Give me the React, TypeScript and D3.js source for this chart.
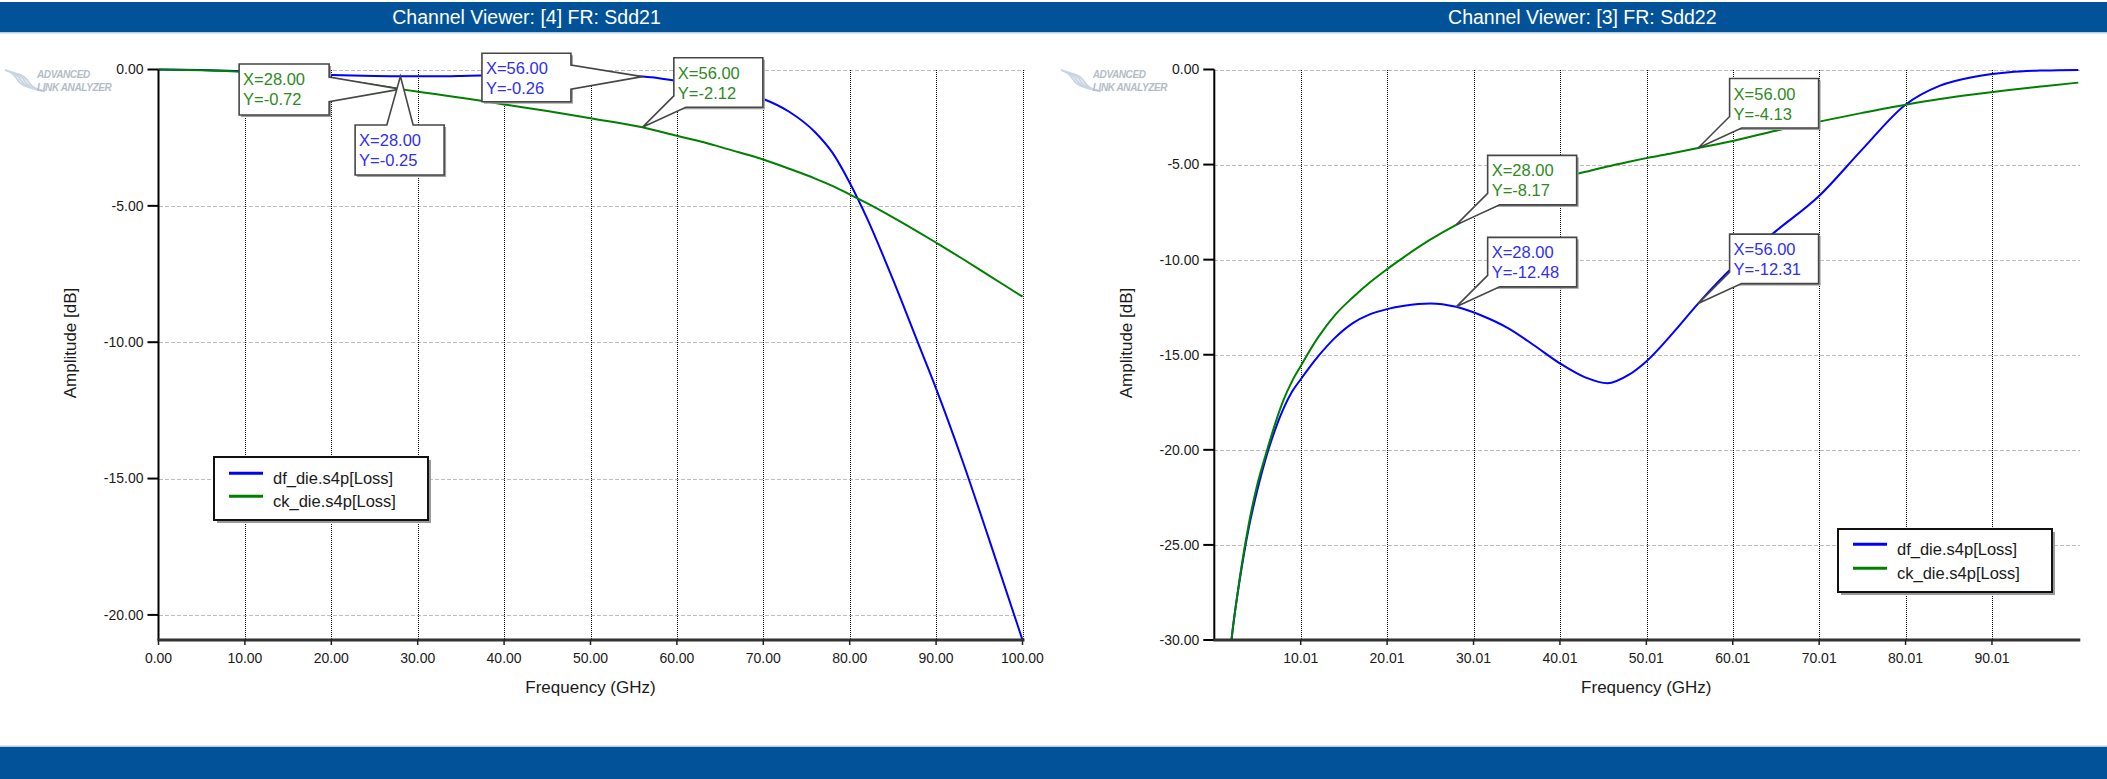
import React from 'react';
import * as d3 from 'd3';

// ---- data: left panel, FR Sdd21 ----
const sdd21Freq = [0, 5, 10, 15, 20, 25, 28, 32, 36, 40, 45, 50, 56, 60, 63, 66, 70, 73, 76, 78, 80, 82, 85, 88, 90, 93, 96, 100];
const sdd21Df = [0, -0.02, -0.06, -0.13, -0.2, -0.24, -0.25, -0.25, -0.23, -0.21, -0.2, -0.21, -0.26, -0.42, -0.58, -0.77, -1.08, -1.55, -2.3, -3.05, -4.15, -5.45, -7.7, -10.1, -11.7, -14.3, -17.1, -20.92];
const sdd21Ck = [0, -0.03, -0.09, -0.2, -0.35, -0.57, -0.72, -0.9, -1.08, -1.28, -1.52, -1.79, -2.12, -2.43, -2.66, -2.93, -3.3, -3.64, -4.0, -4.27, -4.58, -4.9, -5.42, -5.97, -6.35, -6.93, -7.53, -8.33];
const sdd21XTicks = [0, 10, 20, 30, 40, 50, 60, 70, 80, 90, 100];
const sdd21YTicks = [0, -5, -10, -15, -20];

// ---- data: right panel, FR Sdd22 ----
const sdd22Freq = [1.5, 2, 2.5, 3, 4, 5, 6, 7, 8, 9, 10, 12, 14, 16, 18, 20, 22, 25, 28, 31, 34, 37, 40, 43, 45.5, 48, 50, 53, 56, 60, 65, 70, 75, 80, 84, 88, 92, 96, 100];
const sdd22Df = [-32.5, -30.0, -28.2, -26.7, -24.1, -22.1, -20.4, -19.0, -17.85, -16.95, -16.3, -15.1, -14.1, -13.35, -12.88, -12.6, -12.42, -12.3, -12.48, -12.95, -13.6, -14.5, -15.45, -16.2, -16.5, -16.05, -15.35, -13.9, -12.31, -10.4, -8.5, -6.65, -4.2, -1.85, -0.85, -0.38, -0.14, -0.05, -0.02];
const sdd22Ck = [-32.5, -30.0, -28.2, -26.6, -23.9, -21.8, -20.2, -18.7, -17.4, -16.4, -15.6, -14.1, -12.9, -12.0, -11.2, -10.5, -9.85, -8.95, -8.17, -7.5, -6.9, -6.28, -5.72, -5.38, -5.1, -4.85, -4.66, -4.4, -4.13, -3.76, -3.22, -2.74, -2.28, -1.85, -1.55, -1.3, -1.08, -0.88, -0.69];
const sdd22XTicks = [10.01, 20.01, 30.01, 40.01, 50.01, 60.01, 70.01, 80.01, 90.01];
const sdd22YTicks = [0, -5, -10, -15, -20, -25, -30];

const seriesNames = ['df_die.s4p[Loss]', 'ck_die.s4p[Loss]'];
const seriesColors = ['#0000ff', '#008000'];
const markerTextColors = ['#3030f0', '#2e8a1c'];

// markers: series index, frequency, value
const sdd21Markers = [
  { s: 1, f: 28, v: -0.72 },
  { s: 0, f: 28, v: -0.25 },
  { s: 0, f: 56, v: -0.26 },
  { s: 1, f: 56, v: -2.12 },
];
const sdd22Markers = [
  { s: 1, f: 28, v: -8.17 },
  { s: 1, f: 56, v: -4.13 },
  { s: 0, f: 28, v: -12.48 },
  { s: 0, f: 56, v: -12.31 },
];

// ---- layout ----
const W = 2107;
const H = 779;
const PL = 158.5;
const PR = 1022.5;
const PT = 69.5;
const PB = 640;
const FONT = '"Liberation Sans", Arial, sans-serif';

const locale = d3.formatLocale({ decimal: '.', thousands: ',', grouping: [3], currency: ['', ''], minus: '-' });
const fmt = locale.format('.2f');

type Callout = { side: string; dx: number; dy: number; w: number; h: number; a: number; b: number };
const corner = { side: 'corner', dx: 31.5, dy: -69.5, w: 89, h: 49.5, a: 38, b: 12 };
const sdd21Callouts: Callout[] = [
  { side: 'right', dx: -161.3, dy: -25.1, w: 90, h: 51, a: 13, b: 37.7 },
  { side: 'top', dx: -45.3, dy: 48.7, w: 89, h: 50, a: 31.7, b: 58 },
  { side: 'right', dx: -160.4, dy: -23.3, w: 89, h: 48.4, a: 11.7, b: 36 },
  corner,
];
const sdd22Callouts: Callout[] = [corner, corner, corner, corner];

function calloutPath(ax: number, ay: number, c: Callout) {
  const bx = ax + c.dx;
  const by = ay + c.dy;
  const r = bx + c.w;
  const b = by + c.h;
  if (c.side === 'right') return `M${bx},${by}H${r}V${by + c.a}L${ax},${ay}L${r},${by + c.b}V${b}H${bx}Z`;
  if (c.side === 'top') return `M${bx},${by}H${bx + c.a}L${ax},${ay}L${bx + c.b},${by}H${r}V${b}H${bx}Z`;
  return `M${bx},${by}H${r}V${b}H${bx + c.b}L${ax},${ay}L${bx},${by + c.a}Z`;
}

function Logo() {
  return (
    <g>
      {[0, 4, 8, 12].map((o) => (
        <path key={o} d={`M${5 + o},${70 + o * 0.3} q8,2 12,9 q4,7 16,9`} fill="none" stroke="#c9d6e2" strokeWidth={2} />
      ))}
      <text x={37} y={78} fontSize={10} fontWeight="bold" fontStyle="italic" fill="#b4bcc6" fontFamily={FONT} letterSpacing={-0.4}>ADVANCED</text>
      <text x={37} y={90.5} fontSize={10} fontWeight="bold" fontStyle="italic" fill="#b4bcc6" fontFamily={FONT} letterSpacing={-0.4}>LINK ANALYZER</text>
    </g>
  );
}

type PanelProps = {
  id: string;
  ox: number;
  title: string;
  freq: number[];
  series: number[][];
  xDomain: [number, number];
  yDomain: [number, number];
  xTicks: number[];
  yTicks: number[];
  gridX: number[];
  markers: { s: number; f: number; v: number }[];
  callouts: Callout[];
  legend: { x: number; y: number; l1: number; l2: number };
};

function Panel(p: PanelProps) {
  const x = d3.scaleLinear().domain(p.xDomain).range([PL, PR]);
  const y = d3.scaleLinear().domain(p.yDomain).range([PB, PT]);
  const line = (vals: number[]) =>
    d3.line<number>()
      .x((_, i) => x(p.freq[i]))
      .y((v) => y(v))
      .curve(d3.curveMonotoneX)(vals) || '';
  const crisp = (v: number) => Math.round(v) + 0.5;

  return (
    <g transform={`translate(${p.ox},0)`}>
      <text x={526.5} y={24} fill="#fff" fontSize={19.5} textAnchor="middle" fontFamily={FONT}>{p.title}</text>
      <Logo />
      <defs>
        <clipPath id={`clip-${p.id}`}>
          <rect x={PL} y={PT - 10} width={PR - PL + 4} height={PB - PT + 10} />
        </clipPath>
      </defs>
      {/* grid */}
      {p.yTicks.map((t) => (
        <line key={`gy${t}`} x1={PL} x2={PR + 2} y1={crisp(y(t))} y2={crisp(y(t))} stroke="#bdbdbd" strokeDasharray="4,2" shapeRendering="crispEdges" />
      ))}
      {p.gridX.map((t) => (
        <line key={`gx${t}`} x1={crisp(x(t))} x2={crisp(x(t))} y1={PT} y2={PB} stroke="#000" strokeDasharray="1,1" shapeRendering="crispEdges" />
      ))}
      {/* curves */}
      <g clipPath={`url(#clip-${p.id})`}>
        {p.series.map((vals, i) => (
          <path key={i} d={line(vals)} fill="none" stroke={seriesColors[i]} strokeWidth={2} />
        ))}
      </g>
      {/* axes */}
      <line x1={PL} x2={PL} y1={PT} y2={PB} stroke="#000" strokeWidth={2} />
      {p.yTicks.map((t) => (
        <g key={`ty${t}`}>
          <line x1={PL - 11} x2={PL} y1={y(t)} y2={y(t)} stroke="#000" strokeWidth={2} />
          <text x={PL - 15} y={y(t)} dy="0.35em" textAnchor="end" fontSize={14} fill="#1a1a1a" fontFamily={FONT}>{fmt(t)}</text>
        </g>
      ))}
      <line x1={PL - 1} x2={PR + 2} y1={PB} y2={PB} stroke="#333" strokeWidth={3} />
      {p.xTicks.map((t) => (
        <g key={`tx${t}`}>
          <line x1={x(t)} x2={x(t)} y1={PB} y2={PB + 5} stroke="#222" strokeWidth={1.5} />
          <text x={x(t)} y={663} textAnchor="middle" fontSize={14} fill="#1a1a1a" fontFamily={FONT}>{fmt(t)}</text>
        </g>
      ))}
      <text x={(PL + PR) / 2} y={693} textAnchor="middle" fontSize={17} fill="#1a1a1a" fontFamily={FONT}>Frequency (GHz)</text>
      <text transform={`translate(76,343) rotate(-90)`} textAnchor="middle" fontSize={17} fill="#1a1a1a" fontFamily={FONT}>Amplitude [dB]</text>
      {/* callouts */}
      {p.markers.map((m, i) => {
        const c = p.callouts[i];
        const ax = x(m.f);
        const ay = y(m.v);
        const bx = ax + c.dx;
        const by = ay + c.dy;
        return (
          <g key={`m${i}`}>
            <rect x={bx + 2} y={by + 2} width={c.w} height={c.h} fill="#a0a0a0" />
            <path d={calloutPath(ax, ay, c)} fill="#fff" stroke="#464646" strokeWidth={1.6} />
            <text x={bx + 4} y={by + 21} fontSize={16.5} fill={markerTextColors[m.s]} fontFamily={FONT}>{`X=${fmt(m.f)}`}</text>
            <text x={bx + 4} y={by + 41} fontSize={16.5} fill={markerTextColors[m.s]} fontFamily={FONT}>{`Y=${fmt(m.v)}`}</text>
          </g>
        );
      })}
      {/* legend */}
      <g transform={`translate(${p.legend.x},${p.legend.y})`}>
        <rect x={3} y={3} width={214} height={63} fill="#9a9a9a" />
        <rect x={0} y={0} width={214} height={63} fill="#fff" stroke="#111" strokeWidth={2} />
        {seriesNames.map((n, i) => {
          const ly = i === 0 ? p.legend.l1 : p.legend.l2;
          return (
            <g key={n}>
              <line x1={15} x2={49} y1={ly} y2={ly} stroke={seriesColors[i]} strokeWidth={3} />
              <text x={59} y={ly + 11} fontSize={16.5} fill="#1a1a1a" fontFamily={FONT}>{n}</text>
            </g>
          );
        })}
      </g>
    </g>
  );
}

export default function App() {
  return (
    <svg width={W} height={H} style={{ position: 'absolute', left: 0, top: 0, display: 'block', background: '#fff' }}>
      <rect x={0} y={0} width={W} height={H} fill="#fff" />
      <rect x={0} y={2} width={W} height={30} fill="#02529a" />
      <rect x={0} y={32} width={W} height={1.5} fill="#b7cde2" />
      <rect x={0} y={745.5} width={W} height={1.5} fill="#b7cde2" />
      <rect x={0} y={747} width={W} height={32} fill="#02529a" />
      <Panel
        id="sdd21"
        ox={0}
        title="Channel Viewer: [4] FR: Sdd21"
        freq={sdd21Freq}
        series={[sdd21Df, sdd21Ck]}
        xDomain={[0, 100]}
        yDomain={[-20.92, 0]}
        xTicks={sdd21XTicks}
        yTicks={sdd21YTicks}
        gridX={sdd21XTicks.slice(1)}
        markers={sdd21Markers}
        callouts={sdd21Callouts}
        legend={{ x: 214, y: 457, l1: 16.3, l2: 39.3 }}
      />
      <Panel
        id="sdd22"
        ox={1055.8}
        title="Channel Viewer: [3] FR: Sdd22"
        freq={sdd22Freq}
        series={[sdd22Df, sdd22Ck]}
        xDomain={[0.01, 100]}
        yDomain={[-30, 0]}
        xTicks={sdd22XTicks}
        yTicks={sdd22YTicks}
        gridX={sdd22XTicks}
        markers={sdd22Markers}
        callouts={sdd22Callouts}
        legend={{ x: 782.2, y: 529, l1: 15.3, l2: 39.3 }}
      />
    </svg>
  );
}
